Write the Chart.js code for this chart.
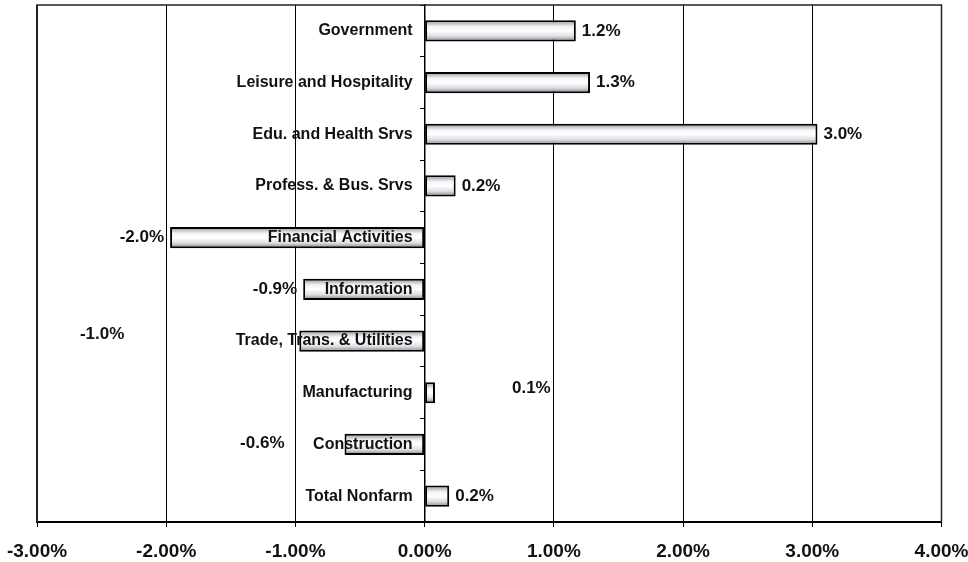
<!DOCTYPE html>
<html>
<head>
<meta charset="utf-8">
<title>Employment change by sector</title>
<script src="https://cdn.jsdelivr.net/npm/chart.js@4.4.1/dist/chart.umd.min.js"></script>
<style>
  html, body { margin: 0; padding: 0; background: #fff; overflow: hidden; }
  #wrap { position: relative; width: 968px; height: 562px; }
</style>
</head>
<body>
<div id="wrap"><canvas id="myChart"></canvas></div>
<script>
const sectors = ['Government', 'Leisure and Hospitality', 'Edu. and Health Srvs', 'Profess. & Bus. Srvs',
    'Financial Activities', 'Information', 'Trade, Trans. & Utilities', 'Manufacturing', 'Construction', 'Total Nonfarm'];
const changePct = [1.17, 1.28, 3.04, 0.24, -1.97, -0.94, -0.97, 0.08, -0.62, 0.19];
const xTicks = [-3, -2, -1, 0, 1, 2, 3, 4];

const FONT = '"Liberation Sans", Arial, sans-serif';

// some value labels were dragged away from their bars in the original (px)
const labelShift = [[0, 0], [0, 0], [0, 0], [0, 0], [0, 0], [0, 0], [-169, -7], [71, -4.5], [-54, -1], [0, 0]];

// category names sit left of the zero line, on top of the bars
const sectorLabels = {
    id: 'sectorLabels',
    afterDatasetsDraw(chart) {
        const ctx = chart.ctx, y = chart.scales.y;
        const x0 = chart.scales.x.getPixelForValue(0);
        ctx.save();
        ctx.font = 'bold 16px ' + FONT;
        ctx.fillStyle = '#111';
        ctx.textAlign = 'right';
        ctx.textBaseline = 'middle';
        sectors.forEach((s, i) => ctx.fillText(s, x0 - 12, y.getPixelForValue(i)));
        ctx.restore();
    }
};

const valueLabels = {
    id: 'valueLabels',
    afterDatasetsDraw(chart) {
        const ctx = chart.ctx;
        const bars = chart.getDatasetMeta(0).data;
        ctx.save();
        ctx.font = 'bold 17px ' + FONT;
        ctx.fillStyle = '#111';
        ctx.textBaseline = 'middle';
        bars.forEach((bar, i) => {
            const v = changePct[i];
            const s = labelShift[i];
            ctx.textAlign = v < 0 ? 'right' : 'left';
            ctx.fillText(v.toFixed(1) + '%', bar.x + (v < 0 ? -6 : 6) + s[0], bar.y + s[1]);
        });
        ctx.restore();
    }
};

// box around the plot area (left, top, right)
const frame = {
    id: 'frame',
    afterDraw(chart) {
        const a = chart.chartArea, ctx = chart.ctx;
        ctx.save();
        ctx.strokeStyle = '#222';
        ctx.lineWidth = 1.5;
        ctx.beginPath();
        ctx.moveTo(a.left, a.bottom);
        ctx.lineTo(a.left, a.top);
        ctx.lineTo(a.right, a.top);
        ctx.lineTo(a.right, a.bottom);
        ctx.stroke();
        ctx.lineWidth = 2;
        ctx.beginPath();
        ctx.moveTo(a.left, a.bottom);
        ctx.lineTo(a.left, a.top);
        ctx.stroke();
        ctx.restore();
    }
};

function barFill(c) {
    const chart = c.chart, area = chart.chartArea;
    if (!area) return '#ececf0';
    const h = (area.bottom - area.top) / sectors.length * 0.41;
    const yc = chart.scales.y.getPixelForValue(c.dataIndex);
    const g = chart.ctx.createLinearGradient(0, yc - h / 2, 0, yc + h / 2);
    g.addColorStop(0, '#8e8e9a');
    g.addColorStop(0.3, '#f4f4f6');
    g.addColorStop(0.5, '#ffffff');
    g.addColorStop(0.75, '#dedee4');
    g.addColorStop(1, '#7c7c88');
    return g;
}

new Chart(document.getElementById('myChart'), {
    type: 'bar',
    data: {
        labels: sectors,
        datasets: [{
            data: changePct,
            backgroundColor: barFill,
            borderColor: '#000',
            borderWidth: 2,
            borderSkipped: false,
            categoryPercentage: 1,
            barPercentage: 0.41
        }]
    },
    options: {
        indexAxis: 'y',
        responsive: true,
        maintainAspectRatio: false,
        animation: false,
        layout: { padding: { left: 37, right: 26.5, top: 5, bottom: -13.8 } },
        plugins: { legend: { display: false }, tooltip: { enabled: false } },
        scales: {
            x: {
                min: -3,
                max: 4,
                afterBuildTicks(s) { s.ticks = xTicks.map(v => ({ value: v })); },
                afterFit(s) { s.paddingLeft = 0; s.paddingRight = 0; },
                grid: { color: '#000', lineWidth: 1, tickLength: 5 },
                border: { color: '#000', width: 2 },
                ticks: {
                    callback: v => v.toFixed(2) + '%',
                    color: '#111',
                    font: { family: FONT, size: 19, weight: 'bold' },
                    padding: 13,
                    maxRotation: 0
                }
            },
            y: {
                position: { x: 0 },
                afterFit(s) { s.paddingTop = 0; s.paddingBottom = 0; },
                grid: { drawOnChartArea: false, offset: true, tickLength: 4, color: '#000', lineWidth: 1 },
                border: { color: '#000', width: 1.5, z: 1 },
                ticks: { display: false }
            }
        }
    },
    plugins: [sectorLabels, valueLabels, frame]
});
</script>
</body>
</html>
